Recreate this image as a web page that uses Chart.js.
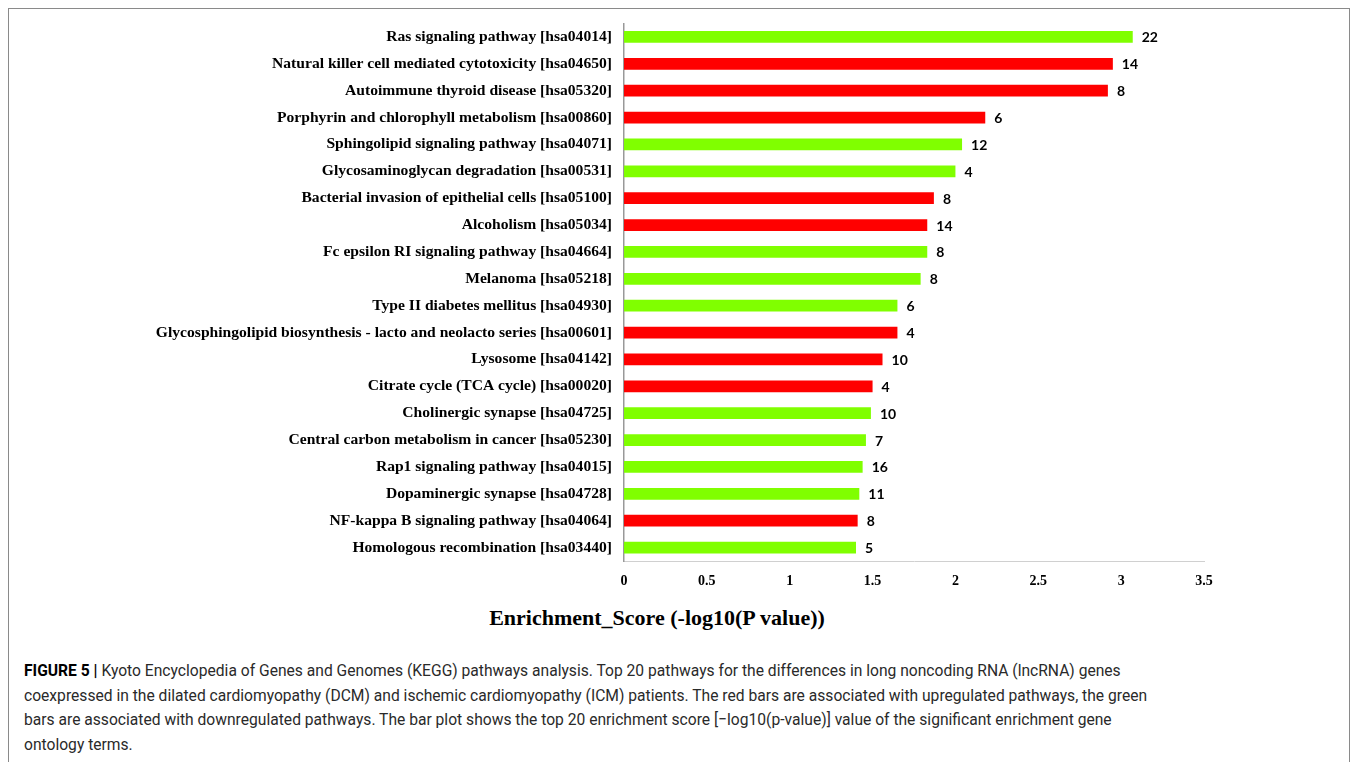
<!DOCTYPE html>
<html>
<head>
<meta charset="utf-8">
<script src="https://cdn.jsdelivr.net/npm/chart.js@4"></script>
<style>
  html, body { margin: 0; padding: 0; background: #fff; }
  body { width: 1357px; height: 762px; position: relative; overflow: hidden; }
  #frame { position: absolute; left: 8px; top: 8px; width: 1342px; height: 800px;
           border: 1px solid #8a8a8a; box-sizing: border-box; }
  #chart { position: absolute; left: 0; top: 0; }
  #xtitle { position: absolute; left: 657px; top: 605px; transform: translateX(-50%);
            font: bold 22px "Liberation Serif", "Times New Roman", serif; color: #000; white-space: nowrap; }
  #caption { position: absolute; left: 24px; top: 658px; font: 17px "Roboto", "Liberation Sans", sans-serif;
             color: #2a2a2a; line-height: 24.6px; white-space: nowrap;
             transform: scaleX(0.919); transform-origin: 0 0; }
  #caption b { font-weight: 700; color: #000; }
</style>
</head>
<body>
<div id="frame"></div>
<canvas id="chart" width="1357" height="600"></canvas>
<div id="xtitle">Enrichment_Score (-log10(P value))</div>
<div id="caption"><b>FIGURE 5 |</b> Kyoto Encyclopedia of Genes and Genomes (KEGG) pathways analysis. Top 20 pathways for the differences in long noncoding RNA (lncRNA) genes<br>coexpressed in the dilated cardiomyopathy (DCM) and ischemic cardiomyopathy (ICM) patients. The red bars are associated with upregulated pathways, the green<br>bars are associated with downregulated pathways. The bar plot shows the top 20 enrichment score [−log10(p-value)] value of the significant enrichment gene<br>ontology terms.</div>
<script>
const pathways = [
  "Ras signaling pathway [hsa04014]",
  "Natural killer cell mediated cytotoxicity [hsa04650]",
  "Autoimmune thyroid disease [hsa05320]",
  "Porphyrin and chlorophyll metabolism [hsa00860]",
  "Sphingolipid signaling pathway [hsa04071]",
  "Glycosaminoglycan degradation [hsa00531]",
  "Bacterial invasion of epithelial cells [hsa05100]",
  "Alcoholism [hsa05034]",
  "Fc epsilon RI signaling pathway [hsa04664]",
  "Melanoma [hsa05218]",
  "Type II diabetes mellitus [hsa04930]",
  "Glycosphingolipid biosynthesis - lacto and neolacto series [hsa00601]",
  "Lysosome [hsa04142]",
  "Citrate cycle (TCA cycle) [hsa00020]",
  "Cholinergic synapse [hsa04725]",
  "Central carbon metabolism in cancer [hsa05230]",
  "Rap1 signaling pathway [hsa04015]",
  "Dopaminergic synapse [hsa04728]",
  "NF-kappa B signaling pathway [hsa04064]",
  "Homologous recombination [hsa03440]"
];
const enrichmentScores = [3.07, 2.95, 2.92, 2.18, 2.04, 2.00, 1.87, 1.83, 1.83, 1.79,
                          1.65, 1.65, 1.56, 1.50, 1.49, 1.46, 1.44, 1.42, 1.41, 1.40];
const geneCounts = [22, 14, 8, 6, 12, 4, 8, 14, 8, 8, 6, 4, 10, 4, 10, 7, 16, 11, 8, 5];
const regulation = ["down", "up", "up", "up", "down", "down", "up", "up", "down", "down",
                    "down", "up", "up", "up", "down", "down", "down", "down", "up", "down"];
const xTicks = [0, 0.5, 1, 1.5, 2, 2.5, 3, 3.5];

const regColors = { up: "#FF0000", down: "#80FF00" };

const valueLabels = {
  id: "valueLabels",
  afterDatasetsDraw(chart) {
    const ctx = chart.ctx;
    const meta = chart.getDatasetMeta(0);
    ctx.save();
    ctx.font = "bold 14px Lato, 'Open Sans', sans-serif";
    ctx.fillStyle = "#000";
    ctx.textAlign = "left";
    ctx.textBaseline = "middle";
    meta.data.forEach((bar, i) => {
      ctx.fillText(String(geneCounts[i]), bar.x + 9, bar.y + 1);
    });
    ctx.restore();
  }
};

new Chart(document.getElementById("chart"), {
  type: "bar",
  data: {
    labels: pathways,
    datasets: [{
      data: enrichmentScores,
      backgroundColor: regulation.map(r => regColors[r]),
      borderWidth: 0,
      barPercentage: 0.44,
      categoryPercentage: 1.0
    }]
  },
  options: {
    indexAxis: "y",
    responsive: false,
    animation: false,
    devicePixelRatio: 1,
    layout: { padding: { top: 23.5, right: 153, left: 0, bottom: 0 } },
    plugins: { legend: { display: false }, tooltip: { enabled: false } },
    scales: {
      x: {
        min: 0, max: 3.5,
        afterBuildTicks(scale) { scale.ticks = xTicks.map(v => ({ value: v })); },
        afterFit(scale) { scale.height = 39; },
        grid: { display: false, drawTicks: false },
        border: { display: true, color: "#d0d0d0", width: 1 },
        ticks: {
          padding: 12,
          color: "#000",
          font: { family: "'Liberation Serif', 'Times New Roman', serif", weight: "bold", size: 14 },
          callback: v => String(v)
        }
      },
      y: {
        afterFit(scale) { scale.width = 624; },
        grid: { display: false, drawTicks: false },
        border: { display: true, color: "#999999", width: 1.5 },
        ticks: {
          padding: 12,
          color: "#000",
          autoSkip: false,
          font: { family: "'Liberation Serif', 'Times New Roman', serif", weight: "bold", size: 15.6 }
        }
      }
    }
  },
  plugins: [valueLabels]
});
</script>
</body>
</html>
